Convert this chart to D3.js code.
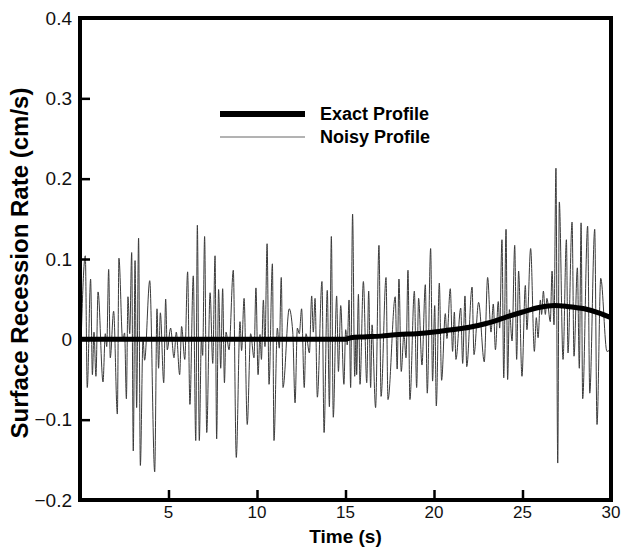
<!DOCTYPE html>
<html>
<head>
<meta charset="utf-8">
<script src="https://cdn.jsdelivr.net/npm/d3@7"></script>
<style>
    body { margin: 0; background: #fff; }
    text { font-family: "Liberation Sans", Arial, sans-serif; }
</style>
</head>
<body>
<div id="RecessionGraph"></div>
<script>
// time (s) and rate (cm/s)
var noisyTime = [
    0, 0.30, 0.41, 0.60, 0.70, 0.79, 0.90, 1.02, 1.30, 1.43,
    1.51, 1.62, 1.71, 1.90, 2.11, 2.20, 2.41, 2.52, 2.62, 2.71,
    2.81, 2.92, 3.01, 3.11, 3.20, 3.31, 3.41, 3.56, 3.65, 3.94,
    4.22, 4.35, 4.44, 4.54, 4.73, 4.84, 4.93, 5.12, 5.31, 5.44,
    5.63, 5.74, 5.92, 6.08, 6.21, 6.40, 6.54, 6.63, 6.74, 6.86,
    6.93, 7.04, 7.16, 7.35, 7.50, 7.63, 7.72, 7.83, 7.95, 8.06,
    8.16, 8.25, 8.42, 8.66, 8.83, 9.04, 9.13, 9.27, 9.45, 9.64,
    9.83, 9.94, 10.06, 10.17, 10.25, 10.36, 10.45, 10.57, 10.68, 10.87,
    10.96, 11.15, 11.26, 11.37, 11.47, 11.82, 12.02, 12.15, 12.28, 12.39,
    12.52, 12.67, 12.77, 12.96, 13.09, 13.18, 13.28, 13.41, 13.67, 13.79,
    13.97, 14.09, 14.20, 14.31, 14.50, 14.60, 14.73, 14.91, 15.01, 15.10,
    15.20, 15.29, 15.40, 15.52, 15.59, 15.63, 15.73, 15.82, 16.01, 16.20,
    16.31, 16.42, 16.50, 16.70, 16.89, 17.01, 17.29, 17.40, 17.81, 17.92,
    18.02, 18.15, 18.30, 18.42, 18.53, 18.64, 18.89, 19.02, 19.13, 19.32,
    19.51, 19.62, 19.81, 19.92, 20.04, 20.13, 20.30, 20.43, 20.64, 20.73,
    20.92, 21.05, 21.15, 21.24, 21.51, 21.62, 21.75, 21.85, 22.15, 22.26,
    22.52, 22.84, 23.03, 23.22, 23.35, 23.47, 23.63, 23.71, 23.84, 23.94,
    24.07, 24.16, 24.26, 24.41, 24.56, 24.67, 24.78, 24.97, 25.16, 25.25,
    25.46, 25.67, 25.78, 25.88, 26.01, 26.08, 26.18, 26.29, 26.38, 26.57,
    26.67, 26.78, 26.89, 26.99, 27.08, 27.29, 27.48, 27.57, 27.80, 27.91,
    28.10, 28.21, 28.31, 28.40, 28.68, 28.80, 29.08, 29.21, 29.42, 29.77,
    30.00
];
var noisyRate = [
    -0.050, 0.104, -0.060, 0.075, -0.044, 0.009, -0.046, 0.059, -0.053, 0.007,
    -0.009, 0.087, -0.023, 0.035, -0.093, 0.101, -0.002, 0.008, -0.074, 0.053,
    0.007, 0.108, -0.139, 0.098, -0.085, 0.126, -0.157, 0.001, -0.026, 0.073,
    -0.165, 0.038, -0.036, 0.033, -0.054, 0.050, -0.013, 0.014, -0.023, 0.009,
    -0.044, 0.016, -0.025, 0.084, -0.081, 0.079, -0.126, 0.142, -0.126, 0.001,
    -0.020, 0.128, -0.116, 0.058, -0.030, 0.104, -0.124, 0.062, -0.036, 0.063,
    -0.054, 0.009, -0.013, 0.086, -0.147, 0.022, -0.014, 0.051, -0.106, 0.007,
    -0.023, 0.064, -0.044, 0.006, -0.025, 0.049, -0.009, 0.119, -0.056, 0.094,
    -0.126, 0.014, -0.011, 0.077, -0.060, 0.038, 0.009, -0.079, 0.014, 0.007,
    0.038, -0.060, 0.007, -0.017, 0.054, 0.009, 0.051, -0.072, 0.072, -0.116,
    0.061, -0.084, 0.128, -0.097, 0.054, -0.040, 0.042, -0.056, 0.012, -0.007,
    0.049, -0.060, 0.156, -0.046, 0.001, -0.044, 0.056, -0.056, 0.072, -0.054,
    0.060, -0.060, 0.018, -0.085, 0.117, -0.071, 0.077, -0.075, 0.053, -0.037,
    0.075, -0.040, 0.007, -0.023, 0.086, -0.075, 0.060, -0.060, 0.051, -0.032,
    0.068, -0.067, 0.113, -0.052, 0.042, -0.083, 0.070, -0.051, 0.032, 0.001,
    0.063, -0.015, 0.034, -0.025, 0.039, -0.030, 0.054, -0.034, 0.065, -0.019,
    0.046, -0.028, 0.077, 0.009, 0.044, -0.013, 0.047, 0.014, 0.124, -0.048,
    0.137, -0.050, 0.037, -0.002, 0.117, -0.025, 0.085, -0.046, 0.067, 0.012,
    0.113, -0.015, 0.027, 0.002, 0.049, 0.031, 0.060, 0.031, 0.051, 0.022,
    0.085, 0.018, 0.213, -0.154, 0.171, -0.025, 0.124, -0.017, 0.146, -0.021,
    0.089, -0.036, 0.145, -0.074, 0.141, -0.067, 0.137, -0.106, 0.076, -0.015,
    -0.012
];
var exactTime = [0, 15, 15.3, 16, 17, 18, 19, 20, 21, 22, 23, 24, 25, 26, 26.8, 27.5, 28.5, 29.3, 30];
var exactRate = [0, 0, 0.002, 0.003, 0.004, 0.006, 0.007, 0.009, 0.012, 0.015, 0.020, 0.027, 0.034, 0.040, 0.042, 0.041, 0.038, 0.033, 0.027];
var xTicks = [5, 10, 15, 20, 25, 30];
var yTicks = [-0.2, -0.1, 0, 0.1, 0.2, 0.3, 0.4];
var legendLabels = ["Exact Profile", "Noisy Profile"];

loadRecessionGraph('#RecessionGraph');

function loadRecessionGraph(element) {

    var width = 628;
    var height = 548;
    var margin = ({ top: 18, right: 17, bottom: 48, left: 80 });

    var x = d3.scaleLinear()
        .domain([0, 30])
        .range([margin.left, width - margin.right]);
    var y = d3.scaleLinear()
        .domain([-0.2, 0.4])
        .range([height - margin.bottom, margin.top]);

    var svg = d3.select(element)
        .append('svg')
        .attr('width', width)
        .attr('height', height);

    svg.append("clipPath")
        .attr("id", "plotClip")
        .append("rect")
        .attr("x", x(0))
        .attr("y", y(0.4))
        .attr("width", x(30) - x(0))
        .attr("height", y(-0.2) - y(0.4));

    var noisy = noisyTime.map((t, i) => ({ t: t, v: noisyRate[i] }));
    var exact = exactTime.map((t, i) => ({ t: t, v: exactRate[i] }));

    var line = d3.line()
        .x(d => x(d.t))
        .y(d => y(d.v))
        .curve(d3.curveMonotoneX);

    svg.append("path")
        .datum(noisy)
        .attr("clip-path", "url(#plotClip)")
        .attr("fill", "none")
        .attr("stroke", "#3a3a3a")
        .attr("stroke-width", 1)
        .attr("d", line);

    svg.append("path")
        .datum(exact)
        .attr("clip-path", "url(#plotClip)")
        .attr("fill", "none")
        .attr("stroke", "#000")
        .attr("stroke-width", 5)
        .attr("d", line);

    // axes: ticks point inward, labels drawn separately
    var xAxis = g => g
        .attr("transform", `translate(0,${y(-0.2)})`)
        .call(d3.axisBottom(x).tickValues(xTicks.slice(0, -1)).tickSizeInner(-10).tickSizeOuter(0).tickFormat(""))
        .call(g => g.select(".domain").remove())
        .call(g => g.selectAll(".tick line").attr("stroke", "#000").attr("stroke-width", 2.5));
    var yAxis = g => g
        .attr("transform", `translate(${x(0)},0)`)
        .call(d3.axisLeft(y).tickValues(yTicks.slice(1, -1)).tickSizeInner(-10).tickSizeOuter(0).tickFormat(""))
        .call(g => g.select(".domain").remove())
        .call(g => g.selectAll(".tick line").attr("stroke", "#000").attr("stroke-width", 2.5));

    svg.append("g").call(xAxis);
    svg.append("g").call(yAxis);

    svg.append("rect")
        .attr("x", x(0))
        .attr("y", y(0.4))
        .attr("width", x(30) - x(0))
        .attr("height", y(-0.2) - y(0.4))
        .attr("fill", "none")
        .attr("stroke", "#000")
        .attr("stroke-width", 4);

    svg.append("g")
        .selectAll("text").data(xTicks).enter().append("text")
        .attr("x", d => x(d))
        .attr("y", y(-0.2) + 18)
        .attr("text-anchor", "middle")
        .attr("font-size", 17)
        .attr("fill", "#111")
        .text(d => d);

    svg.append("g")
        .selectAll("text").data(yTicks).enter().append("text")
        .attr("x", x(0) - 8)
        .attr("y", d => y(d))
        .attr("dy", "0.35em")
        .attr("text-anchor", "end")
        .attr("font-size", 19)
        .attr("fill", "#111")
        .text(d => d3.format("")(d));

    svg.append("text")
        .attr("x", (x(0) + x(30)) / 2)
        .attr("y", 543)
        .attr("text-anchor", "middle")
        .attr("font-size", 19)
        .attr("font-weight", "bold")
        .text("Time (s)");

    svg.append("text")
        .attr("transform", `translate(28,${(y(0.4) + y(-0.2)) / 2 + 4}) rotate(-90)`)
        .attr("text-anchor", "middle")
        .attr("font-size", 24)
        .attr("font-weight", "bold")
        .text("Surface Recession Rate (cm/s)");

    // legend
    var legend = svg.append("g")
        .selectAll("g").data(legendLabels).enter().append("g")
        .attr("transform", (d, i) => `translate(220,${114 + i * 23})`);

    legend.append("line")
        .attr("x1", 0)
        .attr("x2", 85)
        .attr("stroke", (d, i) => i == 0 ? "#000" : "#666")
        .attr("stroke-width", (d, i) => i == 0 ? 6 : 1);

    legend.append("text")
        .attr("x", 100)
        .attr("dy", "0.35em")
        .attr("font-size", 18)
        .attr("font-weight", "bold")
        .text(d => d);
}
</script>
</body>
</html>
